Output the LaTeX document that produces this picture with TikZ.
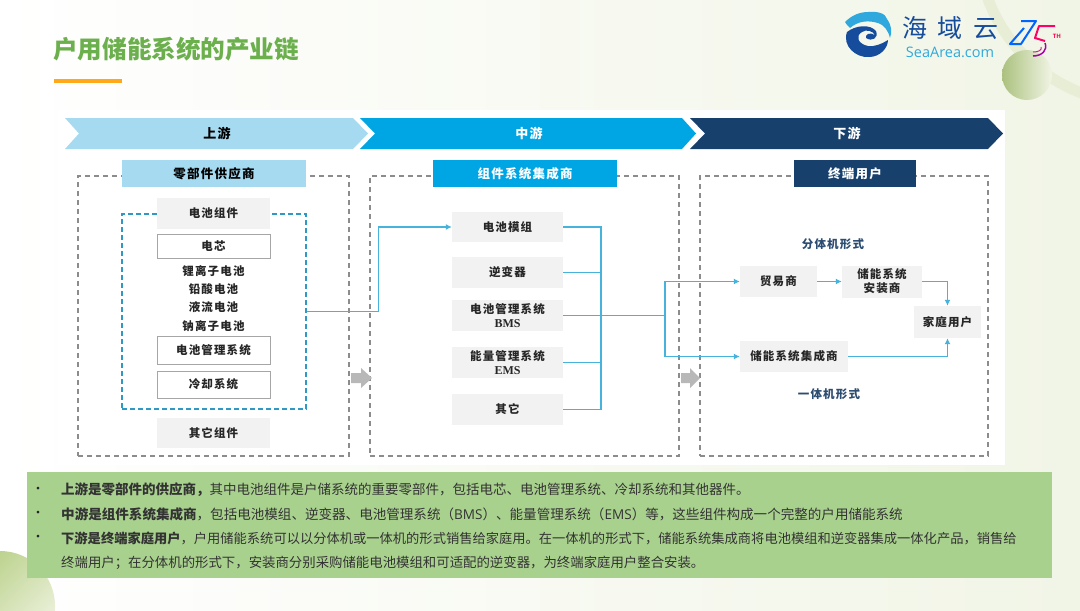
\documentclass[tikz,border=0pt]{standalone}
\usepackage{fontspec}
\usepackage{xcolor}
\usetikzlibrary{arrows.meta}
\setmainfont{Noto Sans CJK SC}
\newfontfamily\labelfont[LetterSpace=10]{Noto Sans CJK SC}
\newfontfamily\logofont[LetterSpace=42]{Noto Sans CJK SC}
\newfontfamily\latinfont{Open Sans}
\newfontfamily\romanfont{Liberation Serif}
\definecolor{paleblue}{HTML}{A5DAF0}
\definecolor{midblue}{HTML}{00A6E4}
\definecolor{navyblue}{HTML}{17406D}
\definecolor{flowblue}{HTML}{45B3DC}
\definecolor{boxgray}{HTML}{F2F2F2}
\definecolor{leafgreen}{HTML}{A9D18E}
\definecolor{titlegreen}{HTML}{6CB04E}
\definecolor{paperright}{HTML}{F1F5E6}
\definecolor{olivedark}{HTML}{B3CD7F}
\definecolor{olivepale}{HTML}{F1F4E4}
\definecolor{logodark}{HTML}{164C9C}
\definecolor{logolight}{HTML}{2FA9DD}

\begin{document}
\begin{tikzpicture}[x=1pt, y=-1pt,
                    partbox/.style={fill=boxgray, inner sep=0pt, align=center, text=black!85,
                      font=\labelfont\bfseries\fontsize{11.5}{14}\selectfont},
                    whitebox/.style={partbox, fill=white, draw=black!35, line width=0.7pt},
                    headbox/.style={inner sep=0pt, minimum height=27pt,
                      font=\labelfont\bfseries\fontsize{12.5}{15}\selectfont},
                    plainlabel/.style={inner sep=0pt, text=black!85,
                      font=\labelfont\bfseries\fontsize{11.5}{14}\selectfont},
                    formlabel/.style={plainlabel, text=navyblue!80!gray},
                    chainlabel/.style={inner sep=0pt, font=\labelfont\bfseries\fontsize{13}{15}\selectfont},
                    dashbox/.style={draw=black!45, dashed, dash pattern=on 5pt off 4pt,
                      line width=1.1pt, inner sep=0pt},
                    tealbox/.style={draw=cyan!55!teal, dashed, dash pattern=on 5pt off 3pt,
                      line width=1.2pt, inner sep=0pt},
                    flow/.style={draw=flowblue, line width=1.2pt},
                    flowarrow/.style={flow, -{Latex[length=6pt,width=6pt]}},
                    notetext/.style={anchor=west, inner sep=0pt, text=black!80},
                    bulletmark/.style={inner sep=0pt, text=black!85, font=\fontsize{13}{15}\selectfont}]
  \useasboundingbox (0,0) rectangle (1080,611);

  % page background
  \shade[left color=white, right color=paperright] (0,0) rectangle (1080,611);
  \begin{scope}
    \clip (0,0) rectangle (1080,611);
    \draw[line width=11pt, color=olivepale!85!olivedark, line cap=round] (985,-10) .. controls (1000,40) and (1040,80) .. (1090,96);
    \shade[left color=olivedark!85!gray, right color=olivepale] (1027,75) circle (25);
    \shade[top color=olivedark, bottom color=olivepale, shading angle=45] (0,606) circle (55);
  \end{scope}

  % logo
  \fill[logodark] (847,32) .. controls (842,46) and (856,58) .. (869,57)
    .. controls (880,57) and (888,48) .. (888,40) .. controls (882,44) and (874,47) .. (868,46)
    .. controls (858,44) and (855,36) .. (862,32) .. controls (866,29) and (873,31) .. (875,35)
    .. controls (870,32) and (865,34) .. (866,38) .. controls (872,42) and (879,38) .. (876,31)
    .. controls (870,24) and (856,25) .. (847,32) -- cycle;
  \fill[logolight] (845,22) .. controls (852,15) and (860,12) .. (868,12)
    .. controls (876,11) and (886,13) .. (887,19) .. controls (892,26) and (892,32) .. (890,38)
    .. controls (888,30) and (884,25) .. (878,23) .. controls (868,20) and (858,21) .. (850,28)
    .. controls (848,26) and (846,24) .. (845,22) -- cycle;
  \node[inner sep=0pt, text=logodark, font=\logofont\fontsize{25}{27}\selectfont] (logoname) at (950,28) {海域云};
  \node[inner sep=0pt, text=logolight, font=\latinfont\fontsize{14.5}{16}\selectfont] (logoweb) at (950,52) {SeaArea.com};
  \draw[line width=2pt, draw=blue!60!cyan, line join=round] (1021,21) -- (1036,21) -- (1021,44) -- (1010,44) -- (1024,28);
  \draw[line width=2pt, draw=red!60!magenta, line join=round] (1055,26) -- (1039,26) -- (1035,38) -- (1045,41);
  \draw[line width=1.5pt, draw=violet!70!magenta] (1045,43) .. controls (1048,50) and (1042,56) .. (1033,56);
  \draw[line width=1pt, draw=magenta!60!violet] (1041,47) .. controls (1042,50) and (1039,52) .. (1033,52);
  \node[inner sep=0pt, text=red!70!magenta, font=\latinfont\bfseries\fontsize{6}{7}\selectfont] (logoth) at (1057,36) {TH};

  % title
  \node[anchor=west, inner sep=0pt, text=titlegreen, font=\bfseries\fontsize{24.6}{28}\selectfont] (title) at (53,49) {户用储能系统的产业链};
  \fill[orange!75!yellow!90] (54,79) rectangle (122,83);

  % white panel
  \fill[white] (58,110) rectangle (1005,465);

  % chain
  \fill[paleblue] (65,118) -- (353,118) -- (368,133.5) -- (353,149) -- (65,149) -- (79,133.5) -- cycle;
  \fill[midblue] (360,118) -- (682,118) -- (696,133.5) -- (682,149) -- (360,149) -- (375,133.5) -- cycle;
  \fill[navyblue] (690,118) -- (988,118) -- (1003,133.5) -- (988,149) -- (690,149) -- (705,133.5) -- cycle;
  \node[chainlabel] (up) at (217,133) {上游};
  \node[chainlabel, text=white] (mid) at (529,133) {中游};
  \node[chainlabel, text=white] (down) at (847,133) {下游};

  % upstream
  \node[dashbox, minimum width=271pt, minimum height=280pt] (uppanel) at (213.5,316) {};
  \node[headbox, fill=paleblue, minimum width=184pt] (uphead) at (214,173.5) {零部件供应商};
  \node[tealbox, minimum width=184pt, minimum height=195pt] (cellgroup) at (214,311.5) {};
  \node[partbox, minimum width=113pt, minimum height=31pt] (packpart) at (213.5,213.5) {电池组件};
  \node[whitebox, minimum width=113pt, minimum height=24pt] (cell) at (213.5,246) {电芯};
  \node[plainlabel] (li) at (213.5,271) {锂离子电池};
  \node[plainlabel] (lead) at (213.5,289) {铅酸电池};
  \node[plainlabel] (liquid) at (213.5,307) {液流电池};
  \node[plainlabel] (sodium) at (213.5,326) {钠离子电池};
  \node[whitebox, minimum width=113pt, minimum height=28pt] (bmspart) at (213.5,350.5) {电池管理系统};
  \node[whitebox, minimum width=113pt, minimum height=27pt] (cooling) at (213.5,384.5) {冷却系统};
  \node[partbox, minimum width=113pt, minimum height=30pt] (otherpart) at (213.5,433) {其它组件};

  % midstream
  \node[dashbox, minimum width=309pt, minimum height=280pt] (midpanel) at (524.5,316) {};
  \node[headbox, fill=midblue, text=white, minimum width=184pt] (midhead) at (525,173.5) {组件系统集成商};
  \node[partbox, minimum width=111pt, minimum height=30pt] (pack) at (507.5,227) {电池模组};
  \node[partbox, minimum width=111pt, minimum height=31pt] (inverter) at (507.5,272.5) {逆变器};
  \node[partbox, minimum width=111pt, minimum height=31pt] (bms) at (507.5,315.5) {电池管理系统\\{\romanfont\large BMS}};
  \node[partbox, minimum width=111pt, minimum height=31pt] (ems) at (507.5,362.5) {能量管理系统\\{\romanfont\large EMS}};
  \node[partbox, minimum width=111pt, minimum height=31pt] (othermod) at (507.5,409.5) {其它};

  % downstream
  \node[dashbox, minimum width=288pt, minimum height=280pt] (downpanel) at (844,316) {};
  \node[headbox, fill=navyblue, text=white, minimum width=122pt] (downhead) at (855,173.5) {终端用户};
  \node[formlabel] (splitform) at (833,244) {分体机形式};
  \node[formlabel] (oneform) at (829,394) {一体机形式};
  \node[partbox, minimum width=77pt, minimum height=31pt] (trader) at (778.5,281.5) {贸易商};
  \node[partbox, minimum width=80pt, minimum height=32pt] (installer) at (882,281.5) {储能系统\\安装商};
  \node[partbox, minimum width=67pt, minimum height=32pt] (home) at (947.5,322) {家庭用户};
  \node[partbox, minimum width=108pt, minimum height=31pt] (integrator) at (794,356.5) {储能系统集成商};

  % block arrows
  \fill[black!28] (351,373) -- (361,373) -- (361,368) -- (372,378) -- (361,388) -- (361,383) -- (351,383) -- cycle;
  \fill[black!28] (681,373) -- (690,373) -- (690,368) -- (700,378) -- (690,388) -- (690,383) -- (681,383) -- cycle;

  % connectors
  \coordinate (inbend) at (378.5,227);
  \coordinate (bus) at (601,315.5);
  \coordinate (split) at (665,315.5);
  \draw[flowarrow] (cellgroup.east) -| (inbend) -- (pack.west);
  \draw[flow] (pack.east) -| (bus);
  \draw[flow] (inverter.east) -| (bus);
  \draw[flow] (ems.east) -| (bus);
  \draw[flow] (othermod.east) -| (bus);
  \draw[flow] (bms.east) -- (split);
  \draw[flowarrow] (split) |- (trader.west);
  \draw[flowarrow] (split) |- (integrator.west);
  \draw[flowarrow] (trader.east) -- (installer.west);
  \draw[flowarrow] (installer.east) -| (home.north);
  \draw[flowarrow] (integrator.east) -| (home.south);

  % notes
  \fill[leafgreen] (27,472) rectangle (1052,578);
  \node[bulletmark] (dota) at (38,490) {•};
  \node[bulletmark] (dotb) at (38,514) {•};
  \node[bulletmark] (dotc) at (38,538) {•};
  \node[notetext, font=\fontsize{13.5}{15}\selectfont] (notea) at (61,490) {{\bfseries 上游是零部件的供应商，}其中电池组件是户储系统的重要零部件，包括电芯、电池管理系统、冷却系统和其他器件。};
  \node[notetext, font=\fontsize{13.55}{15}\selectfont] (noteb) at (61,514) {{\bfseries 中游是组件系统集成商}，包括电池模组、逆变器、电池管理系统（{\latinfont BMS}）、能量管理系统（{\latinfont EMS}）等，这些组件构成一个完整的户用储能系统};
  \node[notetext, font=\fontsize{13.27}{15}\selectfont] (notec) at (61,538) {{\bfseries 下游是终端家庭用户}，户用储能系统可以以分体机或一体机的形式销售给家庭用。在一体机的形式下，储能系统集成商将电池模组和逆变器集成一体化产品，销售给};
  \node[notetext, font=\fontsize{13.4}{15}\selectfont] (noted) at (61,563) {终端用户；在分体机的形式下，安装商分别采购储能电池模组和可适配的逆变器，为终端家庭用户整合安装。};
\end{tikzpicture}
\end{document}
